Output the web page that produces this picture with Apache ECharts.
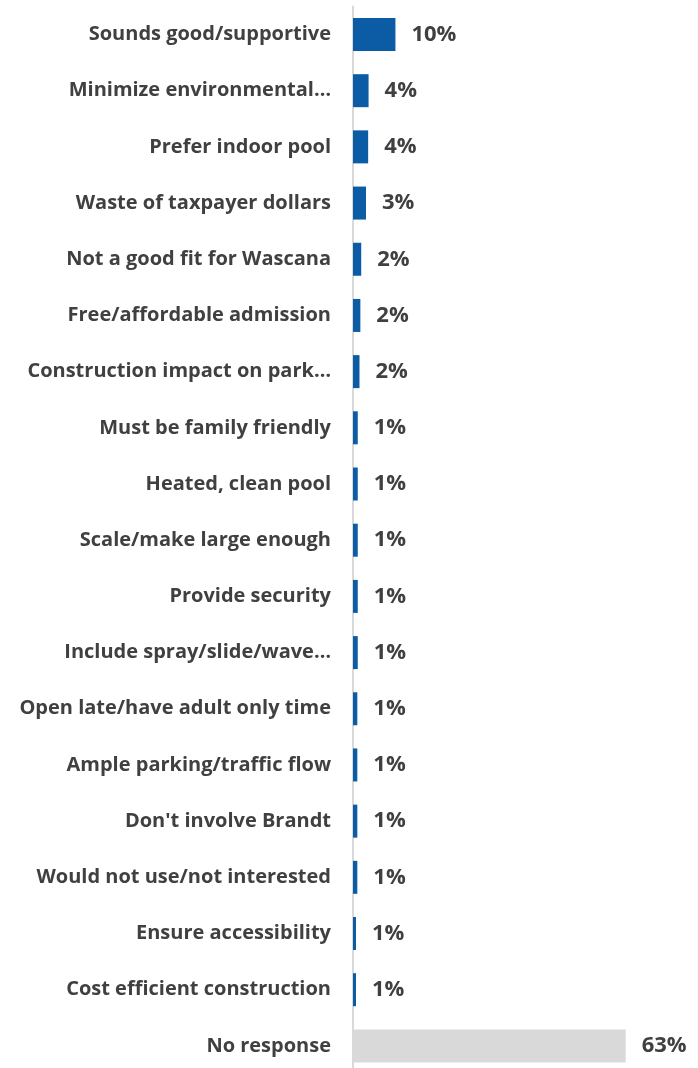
<!DOCTYPE html>
<html>
<head>
<meta charset="utf-8">
<script src="https://cdn.jsdelivr.net/npm/echarts@6/dist/echarts.min.js"></script>
<style>
html,body{margin:0;padding:0;background:#fff;overflow:hidden;}
#chart{width:698px;height:1074px;}
</style>
</head>
<body>
<div id="chart"></div>
<script>
const categories = [
  "Sounds good/supportive",
  "Minimize environmental…",
  "Prefer indoor pool",
  "Waste of taxpayer dollars",
  "Not a good fit for Wascana",
  "Free/affordable admission",
  "Construction impact on park…",
  "Must be family friendly",
  "Heated, clean pool",
  "Scale/make large enough",
  "Provide security",
  "Include spray/slide/wave…",
  "Open late/have adult only time",
  "Ample parking/traffic flow",
  "Don't involve Brandt",
  "Would not use/not interested",
  "Ensure accessibility",
  "Cost efficient construction",
  "No response"
];
const values = [9.8, 3.6, 3.5, 3.0, 1.9, 1.7, 1.5, 1.1, 1.1, 1.1, 1.1, 1.1, 1.0, 1.0, 1.0, 1.0, 0.7, 0.7, 63];
const valueLabels = ["10%", "4%", "4%", "3%", "2%", "2%", "2%", "1%", "1%", "1%", "1%", "1%", "1%", "1%", "1%", "1%", "1%", "1%", "63%"];

const BLUE = "#0B5CA5";
const GREY = "#D9D9D9";
const TEXT = "#404040";
const FONT = "Open Sans";

const chart = echarts.init(document.getElementById('chart'), null, {renderer: 'canvas'});
chart.setOption({
  animation: false,
  backgroundColor: '#fff',
  grid: {left: 353, top: 6.4, right: 42, bottom: 0, containLabel: false},
  xAxis: {type: 'value', min: 0, max: 70, show: false},
  yAxis: {
    type: 'category',
    data: categories,
    inverse: true,
    axisLine: {show: true, lineStyle: {color: GREY, width: 2}},
    axisTick: {show: false},
    axisLabel: {color: TEXT, fontFamily: FONT, fontWeight: 'bold', fontSize: 20, margin: 22}
  },
  series: [{
    type: 'bar',
    barWidth: 33,
    data: values.map((v, i) => ({
      value: v,
      itemStyle: {color: i === values.length - 1 ? GREY : BLUE}
    })),
    label: {
      show: true,
      position: 'right',
      distance: 16,
      color: TEXT,
      fontFamily: FONT,
      fontWeight: 'bold',
      fontSize: 22,
      formatter: p => valueLabels[p.dataIndex]
    }
  }]
});
</script>
</body>
</html>
